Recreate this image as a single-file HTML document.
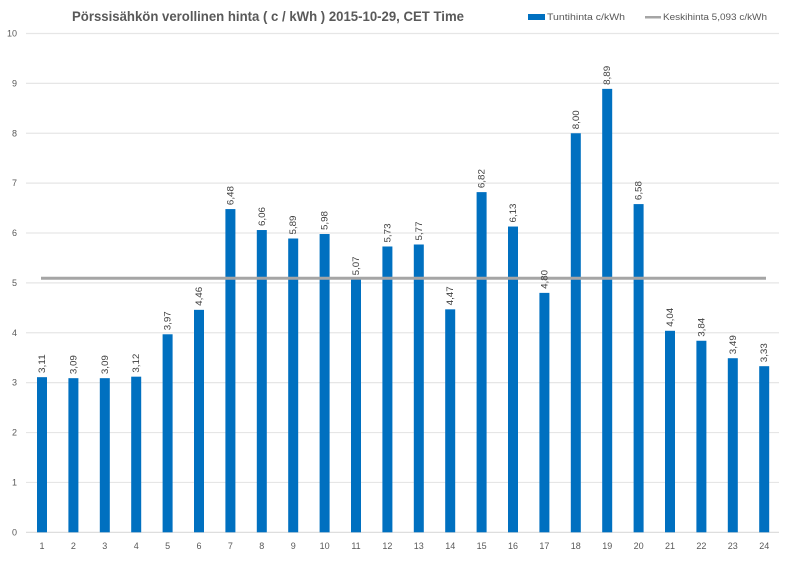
<!DOCTYPE html><html><head><meta charset="utf-8"><style>body{margin:0;background:#fff}svg{display:block;font-family:"Liberation Sans",sans-serif}</style></head><body>
<svg width="800" height="566" xmlns="http://www.w3.org/2000/svg">
<rect width="800" height="566" fill="#fff"/>
<text x="72" y="21" font-size="14" font-weight="bold" fill="#595959" textLength="392" lengthAdjust="spacingAndGlyphs">Pörssisähkön verollinen hinta ( c / kWh ) 2015-10-29, CET Time</text>
<rect x="528" y="14" width="17" height="6" fill="#0070c0"/>
<text x="547" y="20" font-size="9" fill="#595959" textLength="78" lengthAdjust="spacingAndGlyphs">Tuntihinta c/kWh</text>
<rect x="645" y="16" width="16" height="2.5" fill="#a5a5a5"/>
<text x="663" y="20" font-size="9" fill="#595959" textLength="104" lengthAdjust="spacingAndGlyphs">Keskihinta 5,093 c/kWh</text>
<g id="grid" stroke="#e6e6e6" stroke-width="1.2"></g>
<g id="ylab" font-size="9" fill="#595959" text-anchor="end"></g>
<g id="bars"></g>
<line x1="41" y1="278.3" x2="766" y2="278.3" stroke="#a5a5a5" stroke-width="3"/>
<g id="xlab" font-size="9" fill="#595959" text-anchor="middle"></g>
<g id="vlab" font-size="9" fill="#404040"></g>
</svg>
<script>
const v=[3.11,3.09,3.09,3.12,3.97,4.46,6.48,6.06,5.89,5.98,5.07,5.73,5.77,4.47,6.82,6.13,4.80,8.00,8.89,6.58,4.04,3.84,3.49,3.33];
const y0=532.3,k=49.88,ns="http://www.w3.org/2000/svg";
function el(p,t,a,txt){const e=document.createElementNS(ns,t);for(const i in a)e.setAttribute(i,a[i]);if(txt!=null)e.textContent=txt;document.getElementById(p).appendChild(e);}
for(let i=0;i<=10;i++){const y=y0-i*k;el('grid','line',{x1:26,x2:779,y1:y,y2:y,stroke:i==0?'#d9d9d9':'#e6e6e6'});el('ylab','text',{x:17,y:y+3},i);}
v.forEach((d,i)=>{const cx=42+i*31.4,h=d*k;el('bars','rect',{x:cx-5,y:y0-h,width:10,height:h,fill:'#0070c0'});
el('xlab','text',{x:cx,y:549},i+1);
el('vlab','text',{transform:`translate(${cx+3},${y0-h-4}) rotate(-90)`,textLength:19,lengthAdjust:'spacingAndGlyphs'},d.toFixed(2).replace('.',','));});
</script>
</body></html>
